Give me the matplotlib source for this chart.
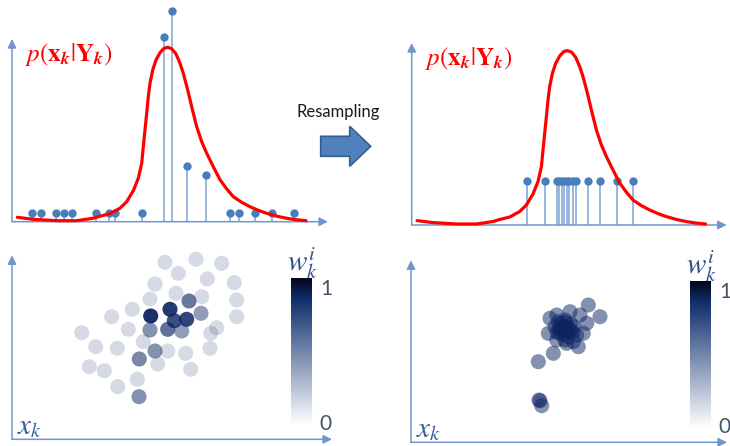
import matplotlib
matplotlib.use('Agg')
from matplotlib import pyplot as plt
from matplotlib.colors import LinearSegmentedColormap, Normalize, to_rgba
from matplotlib.cm import ScalarMappable
from matplotlib.patches import FancyArrow

plt.rcParams['mathtext.fontset'] = 'stix'
plt.rcParams['font.family'] = ['Lato', 'DejaVu Sans']

W_PX, H_PX = 730, 446
EJE = '#6f97cc'
TALLO = '#86aad8'
PUNTO = '#4a7ebb'
ROJO = '#ff0000'
AZUL_TXT = '#3d6098'
NAVY = '#0d2463'

# densidad p(x_k|Y_k) (mismas unidades en los dos paneles)
curva_x = [5.3, 21.3, 44.7, 64.7, 81.3, 88, 98, 108, 114.7, 121.3, 126.3, 129.7, 131.3,
           133, 134.7, 136.3, 138, 140.7, 144, 148, 152, 155.7, 159.7, 164, 168, 171.3,
           175.3, 179.7, 184.7, 189.7, 194.7, 201.3, 208, 214.5, 221.3, 229.5, 238,
           246, 254.7, 264.5, 274.7, 284, 294]
curva_y = [4.4, 2.4, 1.0, 1.0, 3.5, 5.5, 8, 13.5, 20, 31, 43.4, 58.4, 75,
           91.7, 108.4, 125, 138.4, 151.7, 161.7, 169, 173.4, 174.4, 173, 167.7, 158.4, 148.4,
           133.4, 115, 95, 80, 68.4, 55, 42, 33, 25, 19.5, 15,
           11.5, 8.4, 5.6, 3.4, 2.0, 1.0]

# particulas con pesos antes del remuestreo
antes_x = [20.3, 29, 44, 52.3, 59.7, 83.7, 97, 103, 130.3, 152.3, 159.7, 175, 194,
           218, 226.7, 243, 260, 282]
antes_h = [9, 9, 9, 9, 9, 9, 9, 9, 9, 185, 210.7, 56, 46.7, 9, 9, 9, 9, 9]

# particulas despues del remuestreo (pesos iguales)
despues_x = [115, 133.3, 145, 147.6, 150, 152.6, 155.3, 157.6, 161.6, 164.3, 176.6,
             188.3, 205, 221.6]
despues_h = [44.3, 44.3, 44.3, 44.3, 44.3, 44.3, 44.3, 44.3, 44.3, 44.3, 44.3,
             44.3, 44.3, 44.3]

# nube de particulas 2D antes del remuestreo
nube_x = [153, 184, 209.7, 166.3, 195.3, 222.3, 143, 164, 189.7, 224.7, 138, 120.3,
          99.7, 224.7, 116.3, 69.7, 204.7, 198.7, 131.3, 83.7, 105.3, 155.7, 173.7,
          198, 145.7, 77.3, 92.3, 178.7, 125.3, 105.7,
          177, 189, 138, 169.7, 143, 127.3, 127, 155.7,
          138.7, 158, 162.3, 174.7]
nube_y = [177, 180, 176, 166, 160.3, 156.6, 155.3, 146, 142.6, 139.3, 140.3, 130,
          122.6, 122.6, 110, 106.6, 111.6, 106, 97.6, 92.6, 91, 88.3, 86, 91, 75.3,
          72.6, 68.6, 70, 60, 52.6,
          138.3, 126, 109.3, 108.3, 88.3, 80.3, 42.6, 110,
          123.3, 130, 118.6, 120]
nube_w = [0.17, 0.17, 0.17, 0.17, 0.17, 0.17, 0.17, 0.17, 0.17, 0.17,
          0.17, 0.17, 0.17, 0.17, 0.17, 0.17, 0.17, 0.17, 0.17, 0.17,
          0.17, 0.17, 0.17, 0.17, 0.17, 0.17, 0.17, 0.17, 0.17, 0.17,
          0.62, 0.45, 0.5, 0.45, 0.5, 0.55, 0.5, 0.65,
          0.95, 0.9, 0.8, 0.85]

# nube despues del remuestreo
remu_x = [177.3, 189, 159, 169, 175.7, 139, 145.7, 137.3, 144, 150.7, 155.7, 152.3,
          159, 162.3, 149, 157.3, 165.7, 172.3, 154, 162.3, 167.3, 145.7, 155.7,
          142.3, 127.3, 147.3, 154, 129, 130.7, 128,
          150, 153, 156, 158, 152, 148, 160, 155, 146, 162]
remu_y = [137.3, 125.6, 130.6, 127.3, 119, 124, 127.3, 109, 115.6, 119, 115.6, 112.3,
          110.6, 115.6, 109, 105.6, 107.3, 109, 102.3, 100.6, 95.6, 102.3, 99,
          89, 80.6, 120.6, 122.3, 41.6, 36.6, 42.3,
          113, 116, 111, 114, 108, 114, 118, 120, 110, 110]
remu_w = [0.5, 0.5, 0.5, 0.5, 0.5, 0.5, 0.5, 0.5, 0.5, 0.5, 0.5, 0.5, 0.5, 0.5, 0.5,
          0.5, 0.5, 0.5, 0.5, 0.5, 0.5, 0.5, 0.5, 0.5, 0.5, 0.5, 0.5, 0.5, 0.5, 0.5,
          0.5, 0.5, 0.5, 0.5, 0.5, 0.5, 0.5, 0.5, 0.5, 0.5]

cmap = LinearSegmentedColormap.from_list(
    'pesos', [(0, '#ffffff'), (0.85, '#12306e'), (1, '#02061a')])


def flecha(ax, p0, p1):
    ax.annotate('', xy=p1, xytext=p0, annotation_clip=False,
                arrowprops=dict(arrowstyle='-|>', color=EJE, lw=1.1,
                                mutation_scale=13, shrinkA=0, shrinkB=0))


def panel(fig, ox, oy, w, h):
    ax = fig.add_axes([ox / W_PX, (H_PX - oy) / H_PX, w / W_PX, h / H_PX])
    ax.set_xlim(0, w)
    ax.set_ylim(0, h)
    ax.axis('off')
    flecha(ax, (0, 0), (0, h))
    flecha(ax, (0, 0), (w, 0))
    return ax


def tallos(ax, xs, hs):
    ax.vlines(xs, 0, hs, color=TALLO, lw=1.2, clip_on=False, zorder=2)
    ax.plot(xs, hs, 'o', color=PUNTO, ms=6, mec='none', clip_on=False, zorder=3)
    ax.plot(curva_x, curva_y, color=ROJO, lw=2.3, clip_on=False, zorder=4,
            solid_capstyle='round', solid_joinstyle='round')
    ax.text(57, 167, r'$p(\mathbf{x}_{\mathbfit{k}}|\mathbf{Y}_{\mathbfit{k}})$',
            color=ROJO, fontsize=18, ha='center', va='center')


def nube(fig, ax, ox, oy, xs, ys, ws):
    colores = [to_rgba(NAVY, w) for w in ws]
    ax.scatter(xs, ys, s=118, c=colores, linewidths=0, clip_on=False, zorder=3)
    ax.text(18, 12, r'$x_k$', color=AZUL_TXT, fontsize=21, ha='center', va='center')
    ax.text(290, 176, r'$w_k^i$', color='#2f4f85', fontsize=21,
            ha='center', va='center')
    cax = fig.add_axes([(ox + 278.5) / W_PX, (H_PX - oy + 14.2) / H_PX,
                        21 / W_PX, 147 / H_PX])
    cb = fig.colorbar(ScalarMappable(norm=Normalize(0, 1), cmap=cmap), cax=cax)
    cb.outline.set_visible(False)
    cb.set_ticks([0.022, 0.94], labels=['0', '1'])
    cb.ax.tick_params(length=0, labelsize=15, labelcolor='#44546a', pad=6)


fig = plt.figure(figsize=(W_PX / 100, H_PX / 100), dpi=100)

fondo = fig.add_axes([0, 0, 1, 1])
fondo.set_xlim(0, W_PX)
fondo.set_ylim(H_PX, 0)
fondo.axis('off')
fondo.add_patch(FancyArrow(320.7, 146.3, 50, 0, width=20, head_width=40,
                           head_length=21, length_includes_head=True,
                           fc='#4f81bd', ec='#385d8a', lw=1.2))
fondo.text(338, 112, 'Resampling', fontsize=12, color='#1a1a1a',
           ha='center', va='center')

ax1 = panel(fig, 12, 221.7, 316, 182.7)
tallos(ax1, antes_x, antes_h)

ax2 = panel(fig, 411.7, 225, 315, 182)
tallos(ax2, despues_x, despues_h)

ax3 = panel(fig, 12, 439.3, 320, 184)
nube(fig, ax3, 12, 439.3, nube_x, nube_y, nube_w)

ax4 = panel(fig, 411, 442.3, 316, 182)
nube(fig, ax4, 411, 442.3, remu_x, remu_y, remu_w)

fig.savefig('out.png', dpi=100)
